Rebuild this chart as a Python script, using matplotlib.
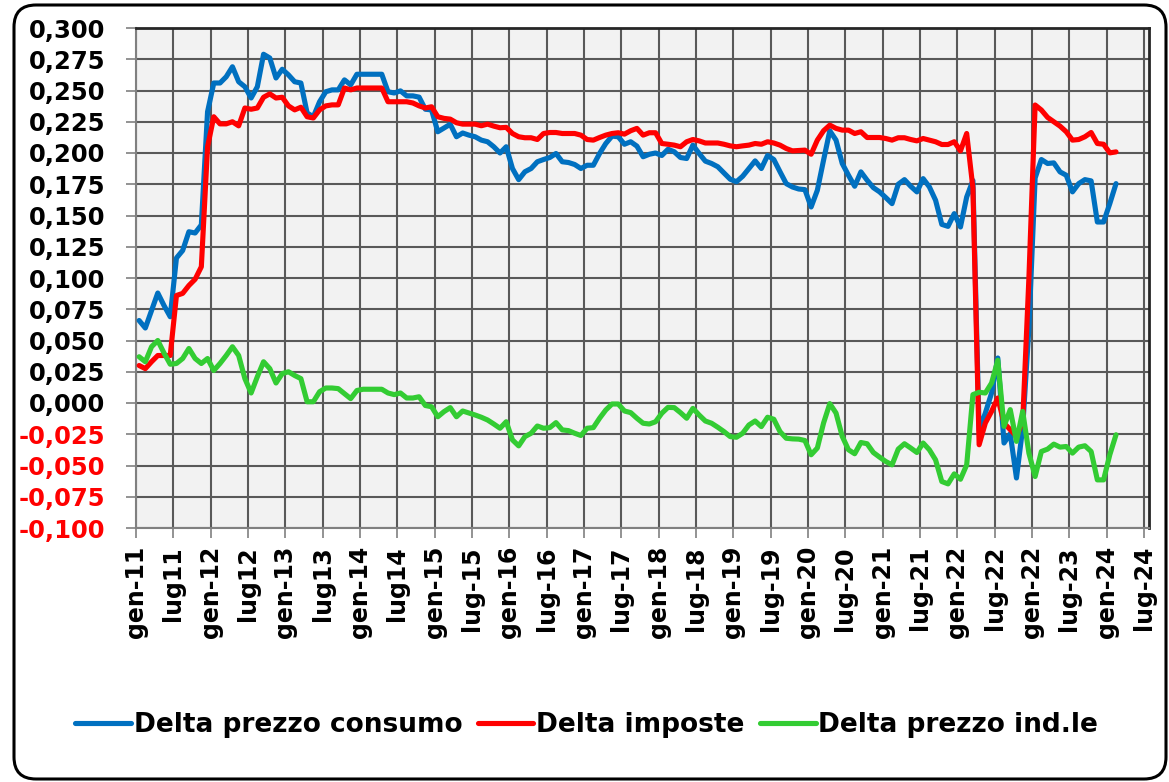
import matplotlib
matplotlib.use("Agg")
import matplotlib.pyplot as plt
from matplotlib.patches import FancyBboxPatch
import numpy as np

plt.rcParams['font.family'] = ['DejaVu Sans']

# Monthly data, gen-2011 .. feb-2024
blue = [0.066, 0.060, 0.074, 0.088, 0.078, 0.069, 0.116, 0.122, 0.137, 0.136, 0.1425, 0.233,
        0.256, 0.256, 0.261, 0.269, 0.257, 0.253, 0.244, 0.253, 0.279, 0.276, 0.260, 0.267,
        0.2625, 0.257, 0.256, 0.232, 0.229, 0.241, 0.249, 0.2505, 0.2505, 0.2585, 0.2545, 0.263,
        0.263, 0.263, 0.263, 0.263, 0.249, 0.248, 0.2497, 0.2457, 0.2457, 0.2447, 0.235, 0.2345,
        0.217, 0.220, 0.223, 0.213, 0.216, 0.2143, 0.213, 0.2103, 0.209, 0.205, 0.200, 0.205,
        0.1876, 0.1787, 0.185, 0.1876, 0.193, 0.1948, 0.1964, 0.1996, 0.193, 0.1924, 0.1908, 0.1876,
        0.1902, 0.1902, 0.1996, 0.2076, 0.2135, 0.213, 0.207, 0.209, 0.2055, 0.197, 0.199, 0.200,
        0.198, 0.203, 0.201, 0.1964, 0.1956, 0.2063, 0.1996, 0.1935, 0.1916, 0.189, 0.184, 0.179,
        0.177, 0.1814, 0.1876, 0.1937, 0.1876, 0.198, 0.1948, 0.185, 0.1755, 0.1728, 0.1712, 0.1707,
        0.1568, 0.1702, 0.1943, 0.2178, 0.2103, 0.1916, 0.1822, 0.1734, 0.1849, 0.1782, 0.1723, 0.1689,
        0.1643, 0.1595, 0.175, 0.1787, 0.1734, 0.1689, 0.1795, 0.1729, 0.1622, 0.1429, 0.1413, 0.1515,
        0.1408, 0.1648, 0.178, -0.022, -0.008, 0.008, 0.036, -0.032, -0.0246, -0.060, -0.020, 0.060,
        0.180, 0.1948, 0.1916, 0.1921, 0.1849, 0.1822, 0.1689, 0.1755, 0.1787, 0.1777, 0.1448, 0.1448,
        0.1595, 0.1755]

red = [0.030, 0.0275, 0.033, 0.038, 0.038, 0.038, 0.086, 0.0877, 0.094, 0.099, 0.109, 0.205,
       0.229, 0.2233, 0.2233, 0.225, 0.2217, 0.236, 0.235, 0.236, 0.2446, 0.2473, 0.244, 0.2446,
       0.2377, 0.2345, 0.2366, 0.229, 0.228, 0.2345, 0.2377, 0.2385, 0.2385, 0.252, 0.2505, 0.252,
       0.252, 0.252, 0.252, 0.252, 0.241, 0.241, 0.241, 0.241, 0.240, 0.2377, 0.236, 0.237,
       0.229, 0.2277, 0.2271, 0.2242, 0.2231, 0.2231, 0.2231, 0.2218, 0.2231, 0.2215, 0.2202, 0.2205,
       0.2156, 0.213, 0.2122, 0.2122, 0.2108, 0.2156, 0.2164, 0.2164, 0.2156, 0.2156, 0.2156, 0.2143,
       0.2108, 0.2103, 0.2124, 0.2143, 0.2156, 0.2162, 0.2151, 0.2178, 0.2197, 0.2143, 0.2162, 0.2162,
       0.2076, 0.207, 0.2063, 0.205, 0.209, 0.2108, 0.2097, 0.208, 0.208, 0.208, 0.207, 0.2057,
       0.205, 0.2057, 0.2063, 0.2076, 0.207, 0.209, 0.208, 0.2063, 0.2036, 0.2017, 0.2020, 0.2023,
       0.199, 0.2103, 0.2178, 0.2223, 0.2197, 0.2183, 0.2183, 0.2156, 0.217, 0.2124, 0.2124, 0.2124,
       0.2116, 0.2103, 0.2122, 0.2122, 0.2108, 0.2097, 0.2116, 0.2103, 0.209, 0.2068, 0.2068, 0.209,
       0.2017, 0.2156, 0.172, -0.0334, -0.016, -0.0067, 0.004, -0.016, -0.0214, -0.0267, -0.015, 0.100,
       0.2384, 0.2344, 0.2285, 0.225, 0.2215, 0.217, 0.2103, 0.2108, 0.213, 0.2164, 0.2076, 0.207,
       0.2001, 0.2009]

green = [0.037, 0.033, 0.045, 0.050, 0.040, 0.031, 0.0316, 0.0356, 0.0436, 0.0356, 0.0316, 0.0356,
         0.026, 0.0316, 0.038, 0.045, 0.038, 0.0195, 0.008, 0.021, 0.033, 0.0275, 0.016, 0.0235,
         0.025, 0.022, 0.0195, 0.001, 0.001, 0.009, 0.012, 0.012, 0.0115, 0.0075, 0.0035, 0.010,
         0.011, 0.011, 0.011, 0.011, 0.008, 0.0067, 0.008, 0.004, 0.004, 0.005, -0.002, -0.003,
         -0.011, -0.0069, -0.0037, -0.011, -0.0064, -0.008, -0.0096, -0.0114, -0.0136, -0.0168, -0.0202, -0.015,
         -0.0295, -0.0343, -0.0269, -0.0242, -0.0184, -0.0202, -0.0197, -0.0157, -0.0215, -0.0221, -0.0242, -0.026,
         -0.0202, -0.0197, -0.0122, -0.0056, -0.0008, -0.0008, -0.0064, -0.0077, -0.0122, -0.0162, -0.0168, -0.015,
         -0.0082, -0.0035, -0.0037, -0.0077, -0.0122, -0.0043, -0.0096, -0.0144, -0.0162, -0.0194, -0.0229, -0.0269,
         -0.0274, -0.0242, -0.0176, -0.0144, -0.0189, -0.0114, -0.013, -0.0229, -0.0282, -0.0287, -0.0289, -0.030,
         -0.0414, -0.036, -0.016, -0.0005, -0.008, -0.0267, -0.0374, -0.0406, -0.0316, -0.0326, -0.0396, -0.0433,
         -0.0468, -0.0495, -0.0369, -0.0326, -0.036, -0.0396, -0.032, -0.0374, -0.0455, -0.0628, -0.0647, -0.0567,
         -0.061, -0.0495, 0.0067, 0.0086, 0.008, 0.016, 0.0342, -0.0187, -0.0053, -0.0307, -0.0067, -0.0401,
         -0.0588, -0.0388, -0.0369, -0.0329, -0.0353, -0.0348, -0.0401, -0.0353, -0.0342, -0.0388, -0.0615, -0.0615,
         -0.0414, -0.0254]

tick_labels = ["gen-11", "lug11", "gen-12", "lug12", "gen-13", "lug13", "gen-14", "lug14",
               "gen-15", "lug-15", "gen-16", "lug-16", "gen-17", "lug-17", "gen-18", "lug-18",
               "gen-19", "lug-19", "gen-20", "lug-20", "gen-21", "lug-21", "gen-22", "lug-22",
               "gen-22", "lug-23", "gen-24", "lug-24"]

series_names = ["Delta prezzo consumo", "Delta imposte", "Delta prezzo ind.le"]
colors = ["#0070C0", "#FF0000", "#33CC33"]

W, H = 1169, 782
fig = plt.figure(figsize=(W / 100, H / 100), dpi=100)
fig.patch.set_facecolor("white")

ax = fig.add_axes([136 / W, 1 - 528 / H, (1149 - 136) / W, 500 / H])
ax.set_facecolor("#F2F2F2")

x = np.arange(len(blue)) + 0.5
lines = []
for data, c, name in zip([blue, red, green], colors, series_names):
    ln, = ax.plot(x, data, color=c, lw=3.7, solid_joinstyle="round",
                  solid_capstyle="round", label=name, zorder=3)
    lines.append(ln)

ax.set_xlim(0, 162.8)
ax.set_ylim(-0.1, 0.3)
ax.set_xticks(np.arange(0, 6 * len(tick_labels), 6))
ax.set_xticklabels(tick_labels, rotation=90, fontsize=17, fontweight="bold")

yt = np.round(np.arange(-0.1, 0.3001, 0.025), 3)
ax.set_yticks(yt)
ylabs = []
for v in yt:
    s = f"{abs(v):.3f}".replace(".", ",")
    ylabs.append(("-" + s) if v < 0 else s)
ax.set_yticklabels(ylabs, fontsize=17.5, fontweight="bold")
for lab, v in zip(ax.get_yticklabels(), yt):
    lab.set_color("#FF0000" if v < 0 else "black")

ax.grid(True, color="#595959", lw=1.5)
ax.set_axisbelow(True)
ax.tick_params(axis="both", length=7, width=1.2, color="#808080")
ax.tick_params(axis="y", pad=15)
ax.tick_params(axis="x", pad=6)

for side in ["left", "bottom"]:
    ax.spines[side].set_color("#808080")
    ax.spines[side].set_linewidth(1.5)
for side in ["top", "right"]:
    ax.spines[side].set_color("#262626")
    ax.spines[side].set_linewidth(2.0)

fig.legend(handles=lines, loc="center", bbox_to_anchor=(0.502, 0.073), ncol=3,
           frameon=False, prop=dict(weight="bold", size=19), handlelength=2.1,
           handletextpad=0.1, columnspacing=0.6)

border = FancyBboxPatch((0.14, 0.03), 11.52, 7.74,
                        boxstyle="round,pad=0,rounding_size=0.22",
                        transform=fig.dpi_scale_trans, fill=False,
                        ec="black", lw=2.2)
fig.add_artist(border)

fig.savefig("out.png", dpi=100)
